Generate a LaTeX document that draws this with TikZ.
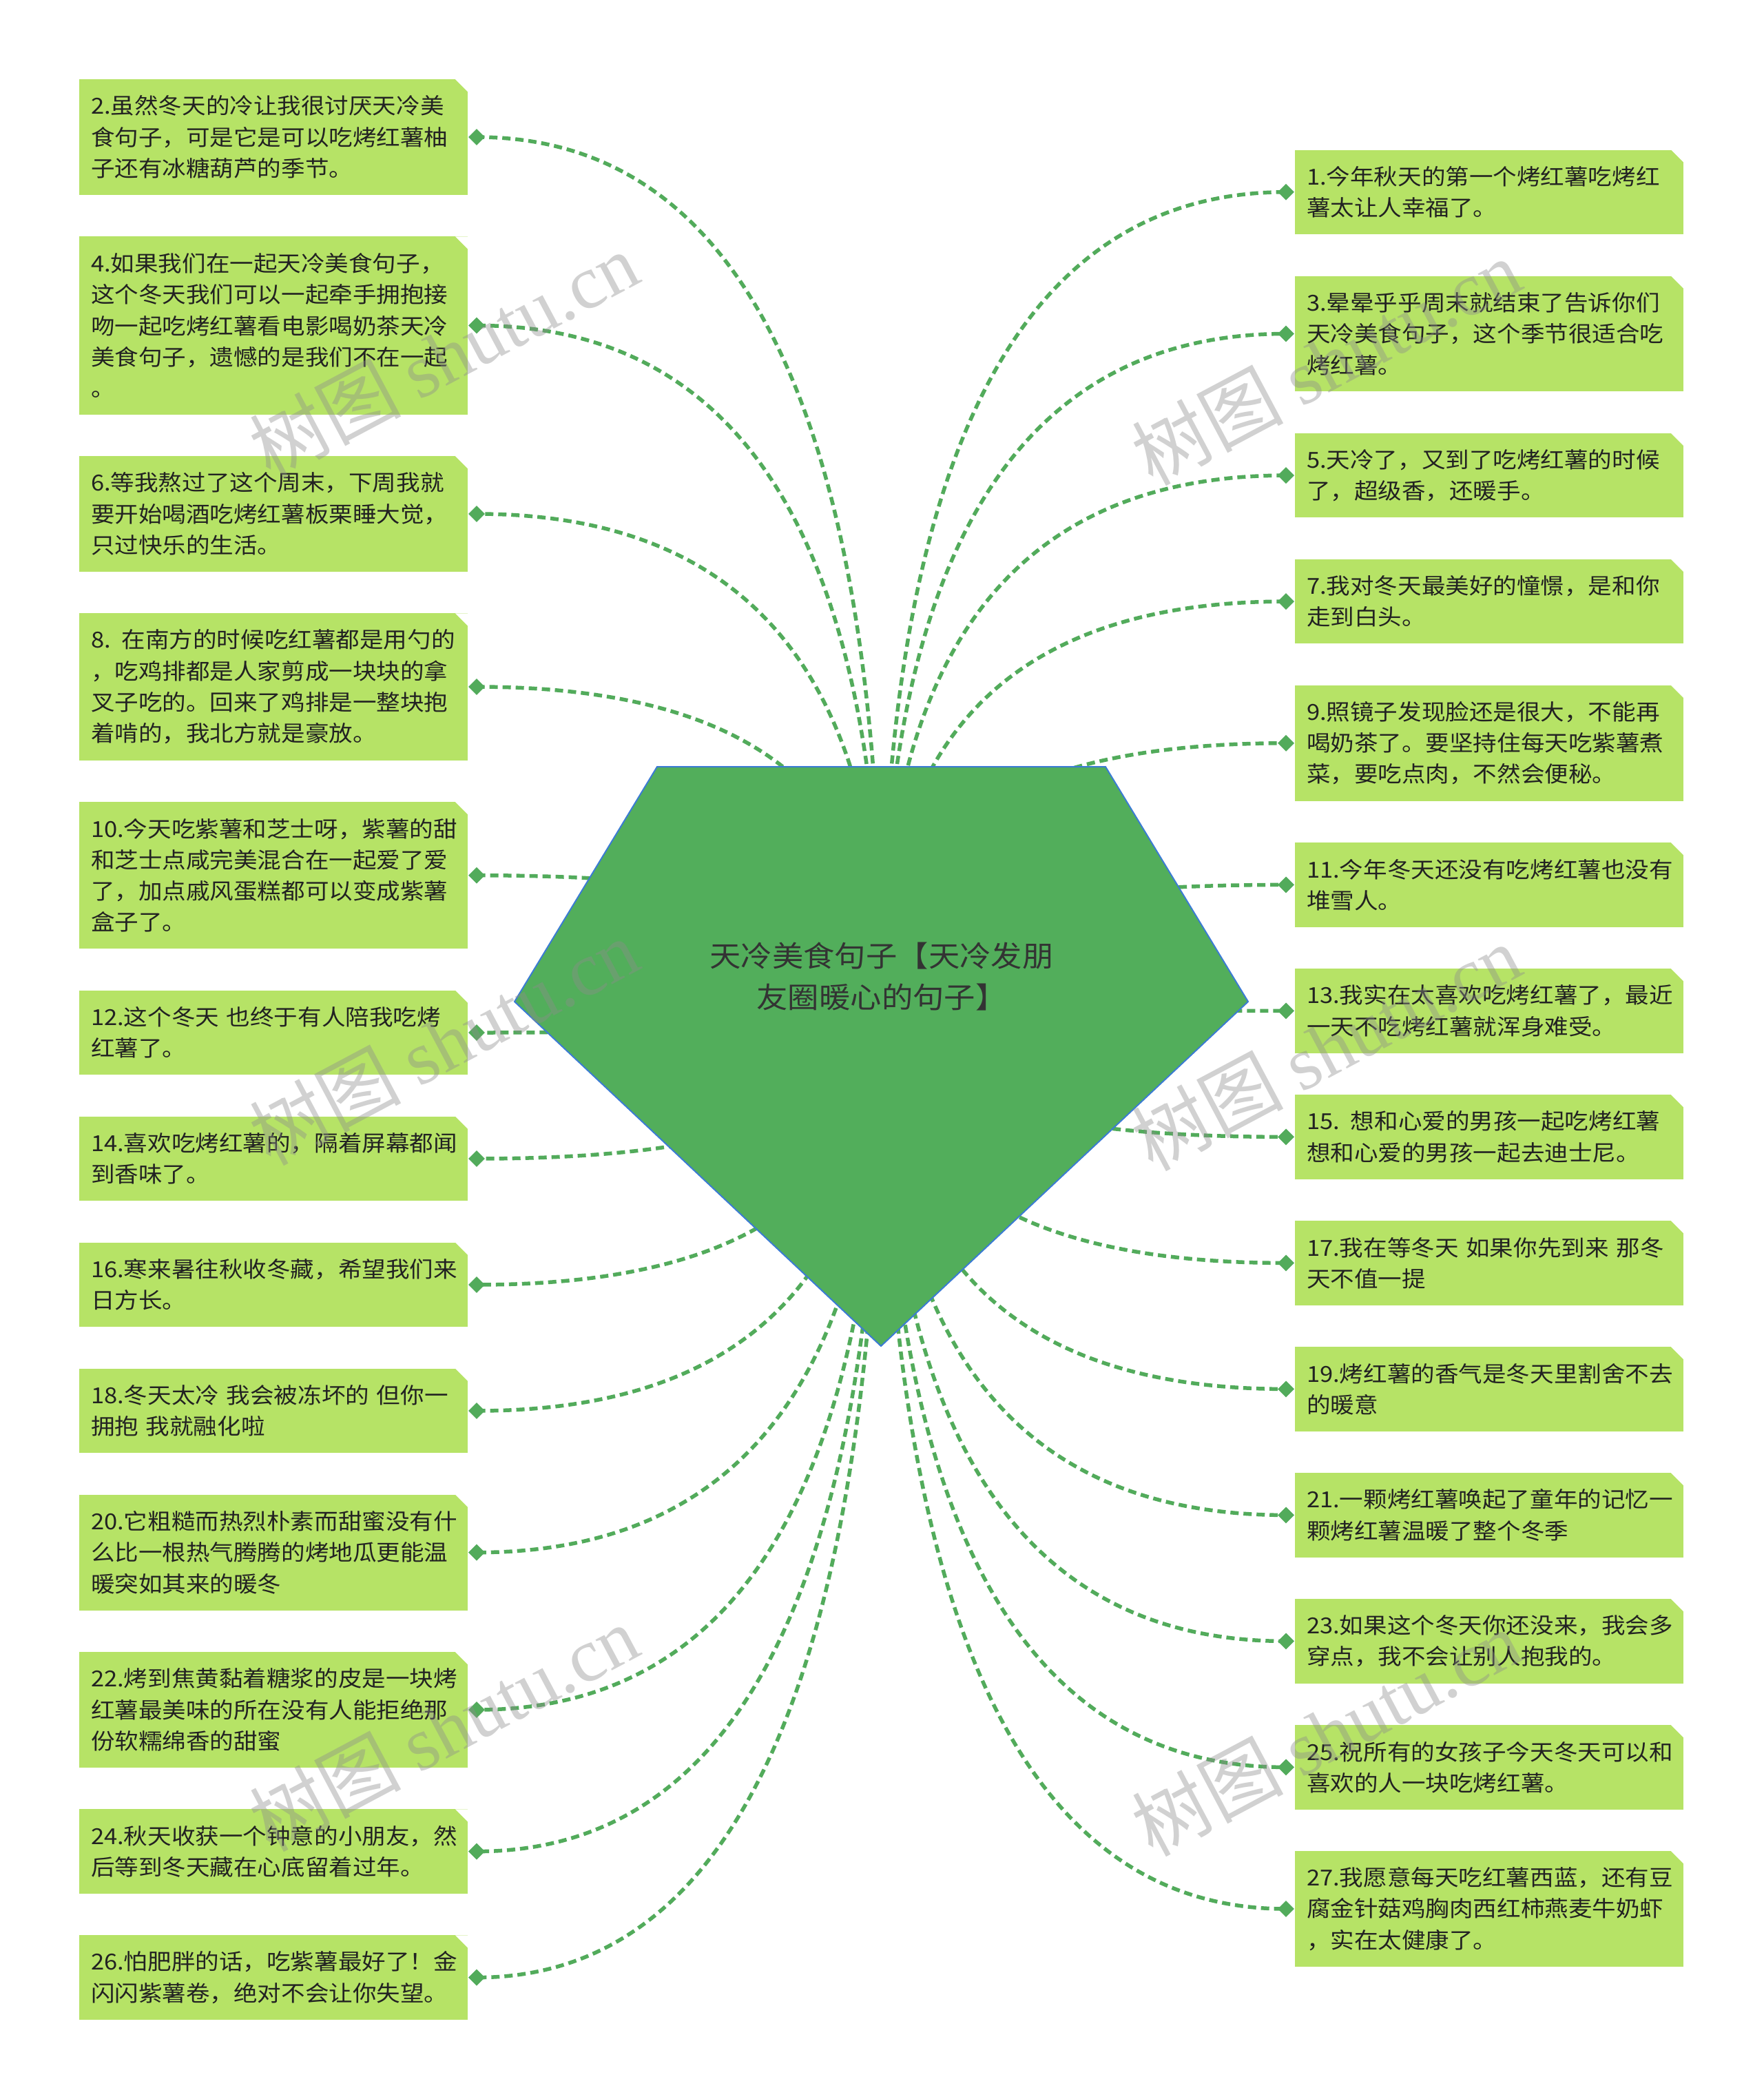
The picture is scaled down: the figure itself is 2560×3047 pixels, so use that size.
\documentclass[tikz,border=0pt]{standalone}
\usepackage{fontspec}
\setmainfont{Noto Sans CJK SC}[FakeStretch=1.08]
\newfontfamily\wmlatin{Liberation Serif}
\newfontfamily\wmcjk{Noto Sans CJK SC}
\usetikzlibrary{calc,shapes.geometric,backgrounds}
\setlength{\parindent}{0pt}
\definecolor{boxgreen}{HTML}{B6E366}
\definecolor{linegreen}{HTML}{52AB5B}
\definecolor{hubgreen}{HTML}{52AE5B}
\definecolor{hubedge}{HTML}{3B7BD4}
\definecolor{txt}{HTML}{222222}
\definecolor{titletxt}{HTML}{333333}
\tikzset{
  qbox/.style={rectangle, fill=boxgreen, inner xsep=17pt, inner ysep=0pt,
    text width=530pt, align=left, minimum width=564pt, text=txt,
    font=\fontsize{32}{45.3}\selectfont,
    path picture={\fill[white] (path picture bounding box.north east) -- ++(-18pt,0pt) -- ++(18pt,-18pt) -- cycle;}},
  ltwo/.style={minimum height=122.6pt},
  lthree/.style={minimum height=167.9pt},
  lfour/.style={minimum height=213.2pt},
  lfive/.style={minimum height=258.5pt},
  dia/.style={diamond, fill=linegreen, minimum width=24pt, minimum height=24pt, inner sep=0pt},
  conn/.style={draw=linegreen, line width=5.5pt, dash pattern=on 12pt off 7pt},
  hubshape/.style={fill=hubgreen, draw=hubedge, line width=2pt, line join=miter},
  wm/.style={text=black!45, opacity=0.4, rotate=28, inner sep=0pt}
}
\newcommand\lnode[4]{\node[qbox,#3] (n#1) at (397,#2) {#4};\node[dia] (d#1) at (692,#2) {};}
\newcommand\rnode[4]{\node[qbox,#3] (n#1) at (2162,#2) {#4};\node[dia] (d#1) at (1867,#2) {};}
\newcommand\qconn[1]{\draw[conn] (hub) .. controls ($(hub)!0.6667!(hub|-d#1)$) and ($(d#1)!0.6667!(hub|-d#1)$) .. (d#1.center);}
\begin{document}
\begin{tikzpicture}[x=1pt,y=-1pt]
\useasboundingbox (0,0) rectangle (2560,3047);
\coordinate (hub) at (1280,1450);
% central shape
\draw[hubshape] (954,1113) -- (1605,1113) -- (1812,1454) -- (1279,1954) -- (747,1454) -- cycle;
\node[font=\fontsize{42}{60}\selectfont, text=titletxt, align=center] (root) at (1280,1417) {天冷美食句子【天冷发朋\\友圈暖心的句子】};
% left column
\lnode{2}{199}{lthree}{2.虽然冬天的冷让我很讨厌天冷美\\食句子，可是它是可以吃烤红薯柚\\子还有冰糖葫芦的季节。}
\lnode{4}{472.5}{lfive}{4.如果我们在一起天冷美食句子，\\这个冬天我们可以一起牵手拥抱接\\吻一起吃烤红薯看电影喝奶茶天冷\\美食句子，遗憾的是我们不在一起\\。}
\lnode{6}{746}{lthree}{6.等我熬过了这个周末，下周我就\\要开始喝酒吃烤红薯板栗睡大觉，\\只过快乐的生活。}
\lnode{8}{997}{lfour}{8. 在南方的时候吃红薯都是用勺的\\，吃鸡排都是人家剪成一块块的拿\\叉子吃的。回来了鸡排是一整块抱\\着啃的，我北方就是豪放。}
\lnode{10}{1270.7}{lfour}{10.今天吃紫薯和芝士呀，紫薯的甜\\和芝士点咸完美混合在一起爱了爱\\了，加点戚风蛋糕都可以变成紫薯\\盒子了。}
\lnode{12}{1499}{ltwo}{12.这个冬天 也终于有人陪我吃烤\\红薯了。}
\lnode{14}{1682}{ltwo}{14.喜欢吃烤红薯的，隔着屏幕都闻\\到香味了。}
\lnode{16}{1865}{ltwo}{16.寒来暑往秋收冬藏，希望我们来\\日方长。}
\lnode{18}{2048}{ltwo}{18.冬天太冷 我会被冻坏的 但你一\\拥抱 我就融化啦}
\lnode{20}{2253.6}{lthree}{20.它粗糙而热烈朴素而甜蜜没有什\\么比一根热气腾腾的烤地瓜更能温\\暖突如其来的暖冬}
\lnode{22}{2482}{lthree}{22.烤到焦黄黏着糖浆的皮是一块烤\\红薯最美味的所在没有人能拒绝那\\份软糯绵香的甜蜜}
\lnode{24}{2687.6}{ltwo}{24.秋天收获一个钟意的小朋友，然\\后等到冬天藏在心底留着过年。}
\lnode{26}{2870.6}{ltwo}{26.怕肥胖的话，吃紫薯最好了！金\\闪闪紫薯卷，绝对不会让你失望。}
% right column
\rnode{1}{278.8}{ltwo}{1.今年秋天的第一个烤红薯吃烤红\\薯太让人幸福了。}
\rnode{3}{484.5}{lthree}{3.晕晕乎乎周末就结束了告诉你们\\天冷美食句子，这个季节很适合吃\\烤红薯。}
\rnode{5}{690.1}{ltwo}{5.天冷了，又到了吃烤红薯的时候\\了，超级香，还暖手。}
\rnode{7}{873.1}{ltwo}{7.我对冬天最美好的憧憬，是和你\\走到白头。}
\rnode{9}{1078.8}{lthree}{9.照镜子发现脸还是很大，不能再\\喝奶茶了。要坚持住每天吃紫薯煮\\菜，要吃点肉，不然会便秘。}
\rnode{11}{1284.4}{ltwo}{11.今年冬天还没有吃烤红薯也没有\\堆雪人。}
\rnode{13}{1467.4}{ltwo}{13.我实在太喜欢吃烤红薯了，最近\\一天不吃烤红薯就浑身难受。}
\rnode{15}{1650.4}{ltwo}{15. 想和心爱的男孩一起吃烤红薯\\想和心爱的男孩一起去迪士尼。}
\rnode{17}{1833.4}{ltwo}{17.我在等冬天 如果你先到来 那冬\\天不值一提}
\rnode{19}{2016.4}{ltwo}{19.烤红薯的香气是冬天里割舍不去\\的暖意}
\rnode{21}{2199.4}{ltwo}{21.一颗烤红薯唤起了童年的记忆一\\颗烤红薯温暖了整个冬季}
\rnode{23}{2382.4}{ltwo}{23.如果这个冬天你还没来，我会多\\穿点，我不会让别人抱我的。}
\rnode{25}{2565.4}{ltwo}{25.祝所有的女孩子今天冬天可以和\\喜欢的人一块吃烤红薯。}
\rnode{27}{2771}{lthree}{27.我愿意每天吃红薯西蓝，还有豆\\腐金针菇鸡胸肉西红柿燕麦牛奶虾\\，实在太健康了。}
% connectors behind
\begin{scope}[on background layer]
\fill[white] (0,0) rectangle (2560,3047);
\foreach \k in {1,2,...,27} {\qconn{\k}}
\end{scope}
% watermarks
\node[wm] (wm1) at (644,515) {\fontsize{110}{120}\selectfont\wmcjk 树图 \wmlatin shutu.cn};
\node[wm] (wm2) at (644,1512) {\fontsize{110}{120}\selectfont\wmcjk 树图 \wmlatin shutu.cn};
\node[wm] (wm3) at (644,2508) {\fontsize{110}{120}\selectfont\wmcjk 树图 \wmlatin shutu.cn};
\node[wm] (wm4) at (1925,525) {\fontsize{110}{120}\selectfont\wmcjk 树图 \wmlatin shutu.cn};
\node[wm] (wm5) at (1925,1520) {\fontsize{110}{120}\selectfont\wmcjk 树图 \wmlatin shutu.cn};
\node[wm] (wm6) at (1925,2515) {\fontsize{110}{120}\selectfont\wmcjk 树图 \wmlatin shutu.cn};
\end{tikzpicture}
\end{document}
